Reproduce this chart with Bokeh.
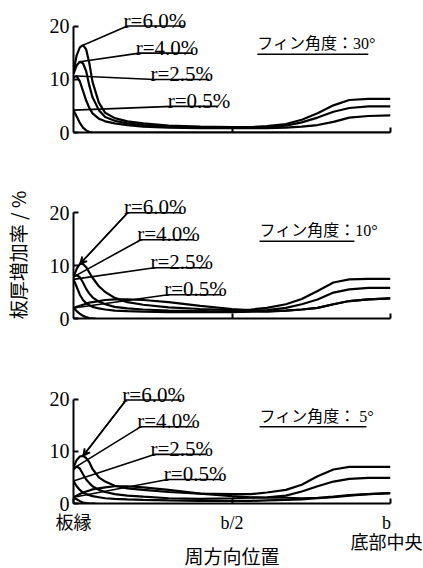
from bokeh.plotting import figure
from bokeh.models import ColumnDataSource, FixedTicker, Arrow, VeeHead, Range1d
from bokeh.layouts import column
from bokeh.embed import file_html
from bokeh.resources import INLINE
from bokeh.core.properties import value

# ---------------- data ----------------
# circumferential position as a fraction of b (0 = plate edge, 1 = bottom centre)
pos = [0, 0.01, 0.02, 0.03, 0.04, 0.05, 0.06, 0.08, 0.10, 0.13, 0.17, 0.22,
       0.30, 0.40, 0.50, 0.56, 0.61, 0.67, 0.72, 0.77, 0.82, 0.87, 0.93, 1.0]

# fin angle 30 deg
a30_r60 = [11.5, 14.5, 16.0, 16.4, 15.6, 13.0, 9.5, 5.6, 3.7, 2.7, 2.1, 1.7,
           1.3, 1.1, 1.0, 1.0, 1.2, 1.6, 2.4, 3.6, 5.1, 6.1, 6.3, 6.3]
a30_r40 = [11.0, 12.6, 13.3, 13.0, 11.5, 8.8, 6.6, 4.2, 2.9, 2.2, 1.7, 1.4,
           1.1, 0.9, 0.9, 0.9, 1.0, 1.3, 1.9, 2.8, 3.9, 4.6, 4.9, 4.9]
a30_r25 = [10.4, 10.6, 9.6, 7.8, 6.0, 4.6, 3.6, 2.6, 2.1, 1.7, 1.4, 1.1,
           0.9, 0.8, 0.8, 0.8, 0.8, 0.9, 1.1, 1.4, 2.0, 2.8, 3.1, 3.2]
a30_r05 = [4.2, 3.0, 1.8, 0.9, 0.4, 0.1, 0.0, 0.0, 0.0, 0.0, 0.0, 0.0,
           0.0, 0.0, 0.0, 0.0, 0.0, 0.0, 0.0, 0.0, 0.0, 0.0, 0.0, 0.0]

# fin angle 10 deg
a10_r60 = [7.8, 9.4, 10.3, 10.3, 9.7, 8.7, 7.7, 6.1, 5.0, 3.9, 3.1, 2.6,
           2.1, 1.8, 1.6, 1.7, 2.0, 2.7, 3.7, 5.2, 6.8, 7.4, 7.5, 7.5]
a10_r40 = [7.9, 8.2, 7.8, 6.8, 5.6, 4.7, 4.0, 3.2, 2.7, 2.2, 1.9, 1.7,
           1.5, 1.4, 1.3, 1.4, 1.6, 2.0, 2.7, 3.6, 4.9, 5.5, 5.8, 5.8]
a10_r25 = [7.4, 6.0, 4.5, 3.5, 2.9, 2.5, 2.2, 1.9, 1.7, 1.5, 1.4, 1.3,
           1.2, 1.2, 1.2, 1.3, 1.3, 1.5, 1.7, 2.0, 2.7, 3.3, 3.6, 3.8]
a10_r05 = [2.0, 2.2, 2.4, 2.6, 2.8, 3.0, 3.1, 3.3, 3.5, 3.6, 3.6, 3.5,
           3.1, 2.4, 1.8, 1.5, 1.4, 1.5, 1.7, 2.0, 2.7, 3.3, 3.6, 3.8]

# fin angle 5 deg
a5_r60 = [7.0, 8.3, 9.0, 9.1, 8.7, 7.9, 6.6, 5.0, 4.2, 3.4, 2.9, 2.6,
          2.2, 1.9, 1.8, 1.8, 2.1, 2.6, 3.6, 5.2, 6.5, 7.0, 7.0, 7.0]
a5_r40 = [6.5, 7.1, 6.7, 5.6, 4.6, 3.9, 3.3, 2.6, 2.2, 1.8, 1.5, 1.3,
          1.0, 0.9, 1.0, 1.1, 1.2, 1.5, 2.3, 3.3, 4.2, 4.7, 4.9, 4.9]
a5_r25 = [4.3, 3.3, 2.6, 2.1, 1.8, 1.6, 1.4, 1.2, 1.0, 0.9, 0.8, 0.7,
          0.6, 0.5, 0.5, 0.5, 0.6, 0.7, 0.8, 1.0, 1.2, 1.5, 1.8, 2.0]
a5_r05 = [1.2, 1.5, 1.8, 2.1, 2.3, 2.5, 2.7, 2.9, 3.1, 3.3, 3.3, 3.1,
          2.6, 1.9, 1.4, 1.2, 1.1, 1.1, 1.0, 1.1, 1.3, 1.6, 1.8, 2.0]

# short curves that fall to zero right at the plate edge
edge_pos = [0, 0.01, 0.02, 0.03, 0.04, 0.05, 0.06, 0.07]
a10_edge = [2.0, 1.4, 0.9, 0.5, 0.25, 0.1, 0.02, 0.0]
a5_edge = [1.2, 0.8, 0.45, 0.2, 0.06, 0.0, 0.0, 0.0]

radius_labels = ["r=6.0%", "r=4.0%", "r=2.5%", "r=0.5%"]
angle_labels = ["フィン角度：30°", "フィン角度：10°", "フィン角度： 5°"]
y_ticks = [0, 10, 20]
x_ticks = [0, 0.5, 1]
x_tick_labels = ["板縁", "b/2", "b\n底部中央"]
y_title = "板厚増加率 / %"
x_title = "周方向位置"

SERIF = "Liberation Serif"
MIXED = "'Liberation Serif', 'Noto Sans CJK JP'"
CJK = "Noto Sans CJK JP"


def make_panel(series, edge, leaders, angle_text, underline, ytop, fh, bt, bb,
               arrow=False, bottom=False):
    p = figure(frame_width=317, frame_height=fh,
               x_range=Range1d(0, 1), y_range=Range1d(0, ytop),
               min_border_left=68, min_border_right=37,
               min_border_top=bt, min_border_bottom=bb,
               output_backend="svg", toolbar_location=None)
    p.outline_line_color = None
    p.grid.visible = False
    p.background_fill_color = "white"
    p.border_fill_color = "white"

    # axes
    xa = p.xaxis[0]
    xa.ticker = FixedTicker(ticks=x_ticks if bottom else x_ticks[1:])
    xa.bounds = (0, 1)
    xa.axis_line_width = 2
    xa.major_tick_line_width = 2
    xa.major_tick_in = 5
    xa.major_tick_out = 0
    xa.minor_tick_line_color = None
    xa.major_label_text_font = MIXED
    xa.major_label_text_font_size = "18px"
    xa.major_label_text_color = "black"
    if bottom:
        xa.major_label_overrides = {t: s for t, s in zip(x_ticks, x_tick_labels)}
        xa.major_label_standoff = 9
        xa.major_label_text_line_height = 1.0
        xa.axis_label = x_title
        xa.axis_label_text_font = CJK
        xa.axis_label_text_font_size = "19px"
        xa.axis_label_text_font_style = "normal"
        xa.axis_label_text_color = "black"
        xa.axis_label_standoff = -14
    else:
        xa.major_label_overrides = {t: "" for t in x_ticks[1:]}
        xa.major_label_standoff = 0

    ya = p.yaxis[0]
    ya.ticker = FixedTicker(ticks=y_ticks)
    ya.bounds = (0, 20)
    ya.axis_line_width = 2
    ya.major_tick_line_width = 2
    ya.major_tick_in = 5
    ya.major_tick_out = 0
    ya.minor_tick_line_color = None
    ya.major_label_text_font = SERIF
    ya.major_label_text_font_size = "20px"
    ya.major_label_text_color = "black"
    ya.major_label_standoff = 4

    # curves
    for ys in series:
        p.line(pos, ys, line_color="black", line_width=2.2)
    if edge is not None:
        p.line(edge_pos, edge, line_color="black", line_width=2.2)

    # leader lines and radius labels
    lx, ly, tx, ty = [], [], [], []
    for k, (ys, (xb, yl, xe)) in enumerate(zip(series, leaders)):
        if k < 3:
            i = max(range(len(ys)), key=lambda j: ys[j])
        else:
            i = 0
        x0, y0 = pos[i], ys[i]
        lx.append([x0, xb, xe])
        ly.append([y0, yl, yl])
        tx.append(xb - 0.012)
        ty.append(yl + 1.0)
        if k == 0 and arrow:
            p.add_layout(Arrow(end=VeeHead(size=7, line_color="black", line_width=1.5,
                                           fill_color="black"),
                               x_start=xb, y_start=yl, x_end=x0, y_end=y0,
                               line_color="black", line_width=1.5))
    p.multi_line(lx, ly, line_color="black", line_width=1.6)
    src = ColumnDataSource(dict(x=tx, y=ty, t=radius_labels))
    p.text("x", "y", "t", source=src, text_font=value(SERIF),
           text_font_size="21px", text_color="black", text_baseline="alphabetic")

    # fin angle label with underline
    ux0, ux1, uy = underline
    p.text([ux0], [uy + 0.35], [angle_text], text_font=value(MIXED),
           text_font_size="16px", text_color="black", text_baseline="bottom")
    p.line([ux0, ux1], [uy, uy], line_color="black", line_width=1.6)
    return p


p1 = make_panel([a30_r60, a30_r40, a30_r25, a30_r05], None,
                [(0.170, 20.0, 0.35), (0.208, 14.9, 0.375),
                 (0.255, 9.95, 0.429), (0.309, 4.9, 0.455)],
                angle_labels[0], (0.58, 0.93, 14.7),
                ytop=132 / 5.325, fh=132, bt=0, bb=20)
p2 = make_panel([a10_r60, a10_r40, a10_r25, a10_r05], a10_edge,
                [(0.171, 20.0, 0.34), (0.213, 14.9, 0.38),
                 (0.255, 9.6, 0.42), (0.298, 4.5, 0.466)],
                angle_labels[1], (0.587, 0.886, 14.6),
                ytop=127 / 5.29, fh=127, bt=39, bb=59, arrow=True)
p3 = make_panel([a5_r60, a5_r40, a5_r25, a5_r05], a5_edge,
                [(0.166, 19.8, 0.34), (0.213, 14.7, 0.376),
                 (0.255, 9.4, 0.419), (0.297, 4.6, 0.466)],
                angle_labels[2], (0.587, 0.924, 14.7),
                ytop=126 / 5.225, fh=126, bt=0, bb=63, arrow=True, bottom=True)

# y-axis title on the middle panel
ya2 = p2.yaxis[0]
ya2.axis_label = y_title
ya2.axis_label_text_font = CJK
ya2.axis_label_text_font_size = "19px"
ya2.axis_label_text_font_style = "normal"
ya2.axis_label_text_color = "black"
ya2.axis_label_standoff = 16

layout = column(p1, p2, p3, spacing=0)
open("out.html", "w").write(file_html(layout, INLINE))
